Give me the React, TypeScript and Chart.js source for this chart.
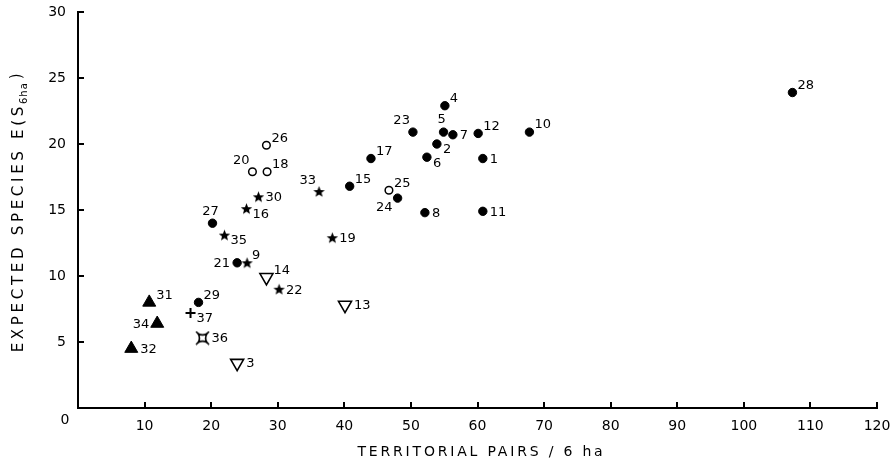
import React, { useEffect, useRef } from 'react';
import { Chart, registerables } from 'chart.js';

Chart.register(...registerables);

// ---- data ----
const siteIds = [
  1, 2, 3, 4, 5, 6, 7, 8, 9, 10,
  11, 12, 13, 14, 15, 16, 17, 18, 19, 20,
  21, 22, 23, 24, 25, 26, 27, 28, 29, 30,
  31, 32, 33, 34, 35, 36, 37,
];
const territorialPairs = [
  60.8, 53.9, 23.9, 55.1, 54.9, 52.4, 56.3, 52.1, 25.4, 67.8,
  60.8, 60.1, 40.1, 28.3, 40.8, 25.3, 44.0, 28.4, 38.2, 26.2,
  23.9, 30.2, 50.3, 48.0, 46.7, 28.3, 20.2, 107.3, 18.1, 27.1,
  10.7, 8.0, 36.2, 11.9, 22.0, 18.7, 16.9,
];
const expectedSpecies = [
  18.9, 20.0, 3.4, 22.9, 20.9, 19.0, 20.7, 14.8, 11.0, 20.9,
  14.9, 20.8, 7.8, 9.9, 16.8, 15.1, 18.9, 17.9, 12.9, 17.9,
  11.0, 9.0, 20.9, 15.9, 16.5, 19.9, 14.0, 23.9, 8.0, 16.0,
  8.0, 4.5, 16.4, 6.4, 13.1, 5.3, 7.2,
];
// marker group of every site
const siteSymbol = [
  'dot', 'dot', 'dtri', 'dot', 'dot', 'dot', 'dot', 'dot', 'star', 'dot',
  'dot', 'dot', 'dtri', 'dtri', 'dot', 'star', 'dot', 'ring', 'star', 'ring',
  'dot', 'star', 'dot', 'dot', 'ring', 'ring', 'dot', 'dot', 'dot', 'star',
  'tri', 'tri', 'star', 'tri', 'star', 'cross', 'plus',
];
// side of the point on which its number is written
const labelAnchor = [
  'e', 'se', 'e', 'ne', 'n', 'se', 'e', 'e', 'ne', 'ne',
  'e', 'ne', 'e', 'ne', 'ne', 'se', 'ne', 'ne', 'e', 'nw',
  'w', 'e', 'nw', 'sw', 'ne', 'ne', 'n', 'ne', 'ne', 'e',
  'ne', 'e', 'nw', 'w', 'se', 'e', 'se',
];
const symbolOrder = ['dot', 'ring', 'star', 'tri', 'dtri', 'plus', 'cross'];

const xTickValues = [10, 20, 30, 40, 50, 60, 70, 80, 90, 100, 110, 120];
const yTickValues = [5, 10, 15, 20, 25, 30];
const xMin = 0;
const xMax = 120;
const yMin = 0;
const yMax = 30;
const originLabel = '0';
const xAxisTitle = 'TERRITORIAL PAIRS / 6 ha';
const yTitleMain = 'EXPECTED SPECIES E(S';
const yTitleSub = '6ha';
const yTitleEnd = ')';

const FONT = '"DejaVu Sans", "Liberation Sans", sans-serif';

function makeStar(): HTMLCanvasElement {
  const c = document.createElement('canvas');
  c.width = 13;
  c.height = 13;
  const g = c.getContext('2d')!;
  g.fillStyle = '#000';
  g.beginPath();
  const cx = 6.5, cy = 7, ro = 6, ri = 2.6;
  for (let i = 0; i < 10; i++) {
    const r = i % 2 === 0 ? ro : ri;
    const a = -Math.PI / 2 + (i * Math.PI) / 5;
    const px = cx + r * Math.cos(a);
    const py = cy + r * Math.sin(a);
    if (i === 0) g.moveTo(px, py);
    else g.lineTo(px, py);
  }
  g.closePath();
  g.fill();
  return c;
}

function makeCrossSquare(): HTMLCanvasElement {
  const c = document.createElement('canvas');
  c.width = 15;
  c.height = 15;
  const g = c.getContext('2d')!;
  g.strokeStyle = '#000';
  g.lineWidth = 1.6;
  const m = 7.5, h = 4.2, bend = 2.2;
  g.beginPath();
  g.moveTo(m - h, m - h);
  g.quadraticCurveTo(m, m - h + bend, m + h, m - h);
  g.quadraticCurveTo(m + h - bend, m, m + h, m + h);
  g.quadraticCurveTo(m, m + h - bend, m - h, m + h);
  g.quadraticCurveTo(m - h + bend, m, m - h, m - h);
  g.closePath();
  g.stroke();
  g.beginPath();
  const e = 2.3;
  g.moveTo(m - h, m - h); g.lineTo(m - h - e, m - h - e);
  g.moveTo(m + h, m - h); g.lineTo(m + h + e, m - h - e);
  g.moveTo(m + h, m + h); g.lineTo(m + h + e, m + h + e);
  g.moveTo(m - h, m + h); g.lineTo(m - h - e, m + h + e);
  g.stroke();
  return c;
}

function symbolStyle(sym: string, star: HTMLCanvasElement, cross: HTMLCanvasElement): any {
  switch (sym) {
    case 'dot':
      return { pointStyle: 'circle', pointRadius: 4.2, pointBackgroundColor: '#000', pointBorderColor: '#000', pointBorderWidth: 1 };
    case 'ring':
      return { pointStyle: 'circle', pointRadius: 3.8, pointBackgroundColor: '#fff', pointBorderColor: '#000', pointBorderWidth: 1.5 };
    case 'star':
      return { pointStyle: star, pointRadius: 6 };
    case 'tri':
      return { pointStyle: 'triangle', pointRadius: 7.5, pointBackgroundColor: '#000', pointBorderColor: '#000', pointBorderWidth: 1 };
    case 'dtri':
      return { pointStyle: 'triangle', pointRotation: 180, pointRadius: 7.5, pointBackgroundColor: '#fff', pointBorderColor: '#000', pointBorderWidth: 1.6 };
    case 'plus':
      return { pointStyle: 'cross', pointRadius: 5, pointBorderColor: '#000', pointBorderWidth: 2 };
    default:
      return { pointStyle: cross, pointRadius: 7 };
  }
}

const anchorOffset: Record<string, [number, number, CanvasTextAlign]> = {
  e: [7, 1, 'left'],
  ne: [5, -7, 'left'],
  se: [6, 6, 'left'],
  n: [-2, -12, 'center'],
  nw: [-3, -11, 'right'],
  w: [-7, 1, 'right'],
  sw: [-5, 10, 'right'],
};

function drawSpaced(ctx: CanvasRenderingContext2D, text: string, x: number, y: number, spacing: number) {
  (ctx as any).letterSpacing = spacing + 'px';
  ctx.fillText(text, x, y);
  (ctx as any).letterSpacing = '0px';
}

const decorPlugin = {
  id: 'decor',
  afterDatasetsDraw(chart: any) {
    const ctx: CanvasRenderingContext2D = chart.ctx;
    ctx.save();
    ctx.fillStyle = '#000';
    ctx.font = `13px ${FONT}`;
    ctx.textBaseline = 'middle';
    chart.data.datasets.forEach((ds: any, di: number) => {
      const meta = chart.getDatasetMeta(di);
      meta.data.forEach((el: any, i: number) => {
        const raw = ds.data[i];
        const [dx, dy, align] = anchorOffset[raw.anchor] || anchorOffset.e;
        const big = raw.sym === 'tri' || raw.sym === 'dtri' || raw.sym === 'cross';
        const extra = big ? (dx > 0 ? 2 : dx < 0 ? -1 : 0) : 0;
        ctx.textAlign = align;
        ctx.fillText(String(raw.id), el.x + dx + extra, el.y + dy);
      });
    });
    ctx.restore();
  },
  afterDraw(chart: any) {
    const ctx: CanvasRenderingContext2D = chart.ctx;
    const { chartArea } = chart;
    const xs = chart.scales.x;
    const ys = chart.scales.y;
    ctx.save();
    ctx.strokeStyle = '#000';
    ctx.lineWidth = 2;
    ctx.beginPath();
    yTickValues.forEach((v) => {
      const py = Math.round(ys.getPixelForValue(v));
      ctx.moveTo(chartArea.left, py);
      ctx.lineTo(chartArea.left + 6, py);
    });
    xTickValues.forEach((v) => {
      const px = Math.round(xs.getPixelForValue(v));
      ctx.moveTo(px, chartArea.bottom);
      ctx.lineTo(px, chartArea.bottom - 6);
    });
    ctx.stroke();

    ctx.fillStyle = '#000';
    ctx.font = `14px ${FONT}`;
    ctx.textAlign = 'center';
    ctx.textBaseline = 'middle';
    ctx.fillText(originLabel, chartArea.left - 13, chartArea.bottom + 12);

    // x title
    ctx.font = `14px ${FONT}`;
    const wx = ctx.measureText(xAxisTitle).width;
    const targetX = 248;
    const lsx = (targetX - wx) / xAxisTitle.length;
    ctx.textAlign = 'left';
    const cx = (chartArea.left + chartArea.right) / 2 + 4;
    drawSpaced(ctx, xAxisTitle, cx - targetX / 2, chartArea.bottom + 44, lsx);

    // y title (rotated)
    ctx.save();
    const cy = (chartArea.top + chartArea.bottom) / 2 + 1;
    ctx.translate(19, cy);
    ctx.rotate(-Math.PI / 2);
    const lsy = 3.7;
    ctx.font = `15px ${FONT}`;
    (ctx as any).letterSpacing = lsy + 'px';
    const w1 = ctx.measureText(yTitleMain).width;
    const w3 = ctx.measureText(yTitleEnd).width;
    ctx.font = `10px ${FONT}`;
    (ctx as any).letterSpacing = '1px';
    const w2 = ctx.measureText(yTitleSub).width;
    const total = w1 + w2 + w3 + 2;
    let tx = -total / 2;
    ctx.textAlign = 'left';
    ctx.font = `15px ${FONT}`;
    drawSpaced(ctx, yTitleMain, tx, 0, lsy);
    tx += w1 - 1;
    ctx.font = `10px ${FONT}`;
    drawSpaced(ctx, yTitleSub, tx, 5, 1);
    tx += w2 + 3;
    ctx.font = `15px ${FONT}`;
    drawSpaced(ctx, yTitleEnd, tx, -2, 0);
    ctx.restore();

    ctx.restore();
  },
};

export default function App() {
  const canvasRef = useRef<HTMLCanvasElement | null>(null);

  useEffect(() => {
    document.body.style.margin = '0';
    const canvas = canvasRef.current;
    if (!canvas) return;
    const star = makeStar();
    const cross = makeCrossSquare();

    const datasets = symbolOrder.map((sym) => {
      const data: any[] = [];
      siteIds.forEach((id, i) => {
        if (siteSymbol[i] === sym) {
          data.push({ x: territorialPairs[i], y: expectedSpecies[i], id, anchor: labelAnchor[i], sym });
        }
      });
      return {
        label: sym,
        data,
        showLine: false,
        ...symbolStyle(sym, star, cross),
        pointHoverRadius: 0,
      };
    });

    const chart = new Chart(canvas, {
      type: 'scatter',
      data: { datasets },
      options: {
        animation: false,
        responsive: true,
        maintainAspectRatio: false,
        events: [],
        layout: { padding: { top: 12, right: 17, left: 0, bottom: 0 } },
        plugins: { legend: { display: false }, tooltip: { enabled: false } },
        scales: {
          x: {
            type: 'linear',
            min: xMin,
            max: xMax,
            afterFit: (s: any) => { s.height = 57; s.paddingLeft = 0; s.paddingRight = 0; },
            afterBuildTicks: (s: any) => { s.ticks = xTickValues.map((v) => ({ value: v })); },
            grid: { display: false, drawTicks: false },
            border: { display: true, width: 2, color: '#000' },
            ticks: {
              color: '#000',
              padding: 10,
              maxRotation: 0,
              font: { family: FONT, size: 14 },
              callback: (v: any) => String(v),
            },
          },
          y: {
            type: 'linear',
            min: yMin,
            max: yMax,
            afterFit: (s: any) => { s.width = 78; s.paddingTop = 0; s.paddingBottom = 0; },
            afterBuildTicks: (s: any) => { s.ticks = yTickValues.map((v) => ({ value: v })); },
            grid: { display: false, drawTicks: false },
            border: { display: true, width: 2, color: '#000' },
            ticks: {
              color: '#000',
              padding: 12,
              font: { family: FONT, size: 14 },
              callback: (v: any) => String(v),
            },
          },
        },
      },
      plugins: [decorPlugin],
    });

    return () => chart.destroy();
  }, []);

  return (
    <div style={{ position: 'fixed', left: 0, top: 0, width: 894, height: 465, background: '#fff' }}>
      <canvas ref={canvasRef} />
    </div>
  );
}
